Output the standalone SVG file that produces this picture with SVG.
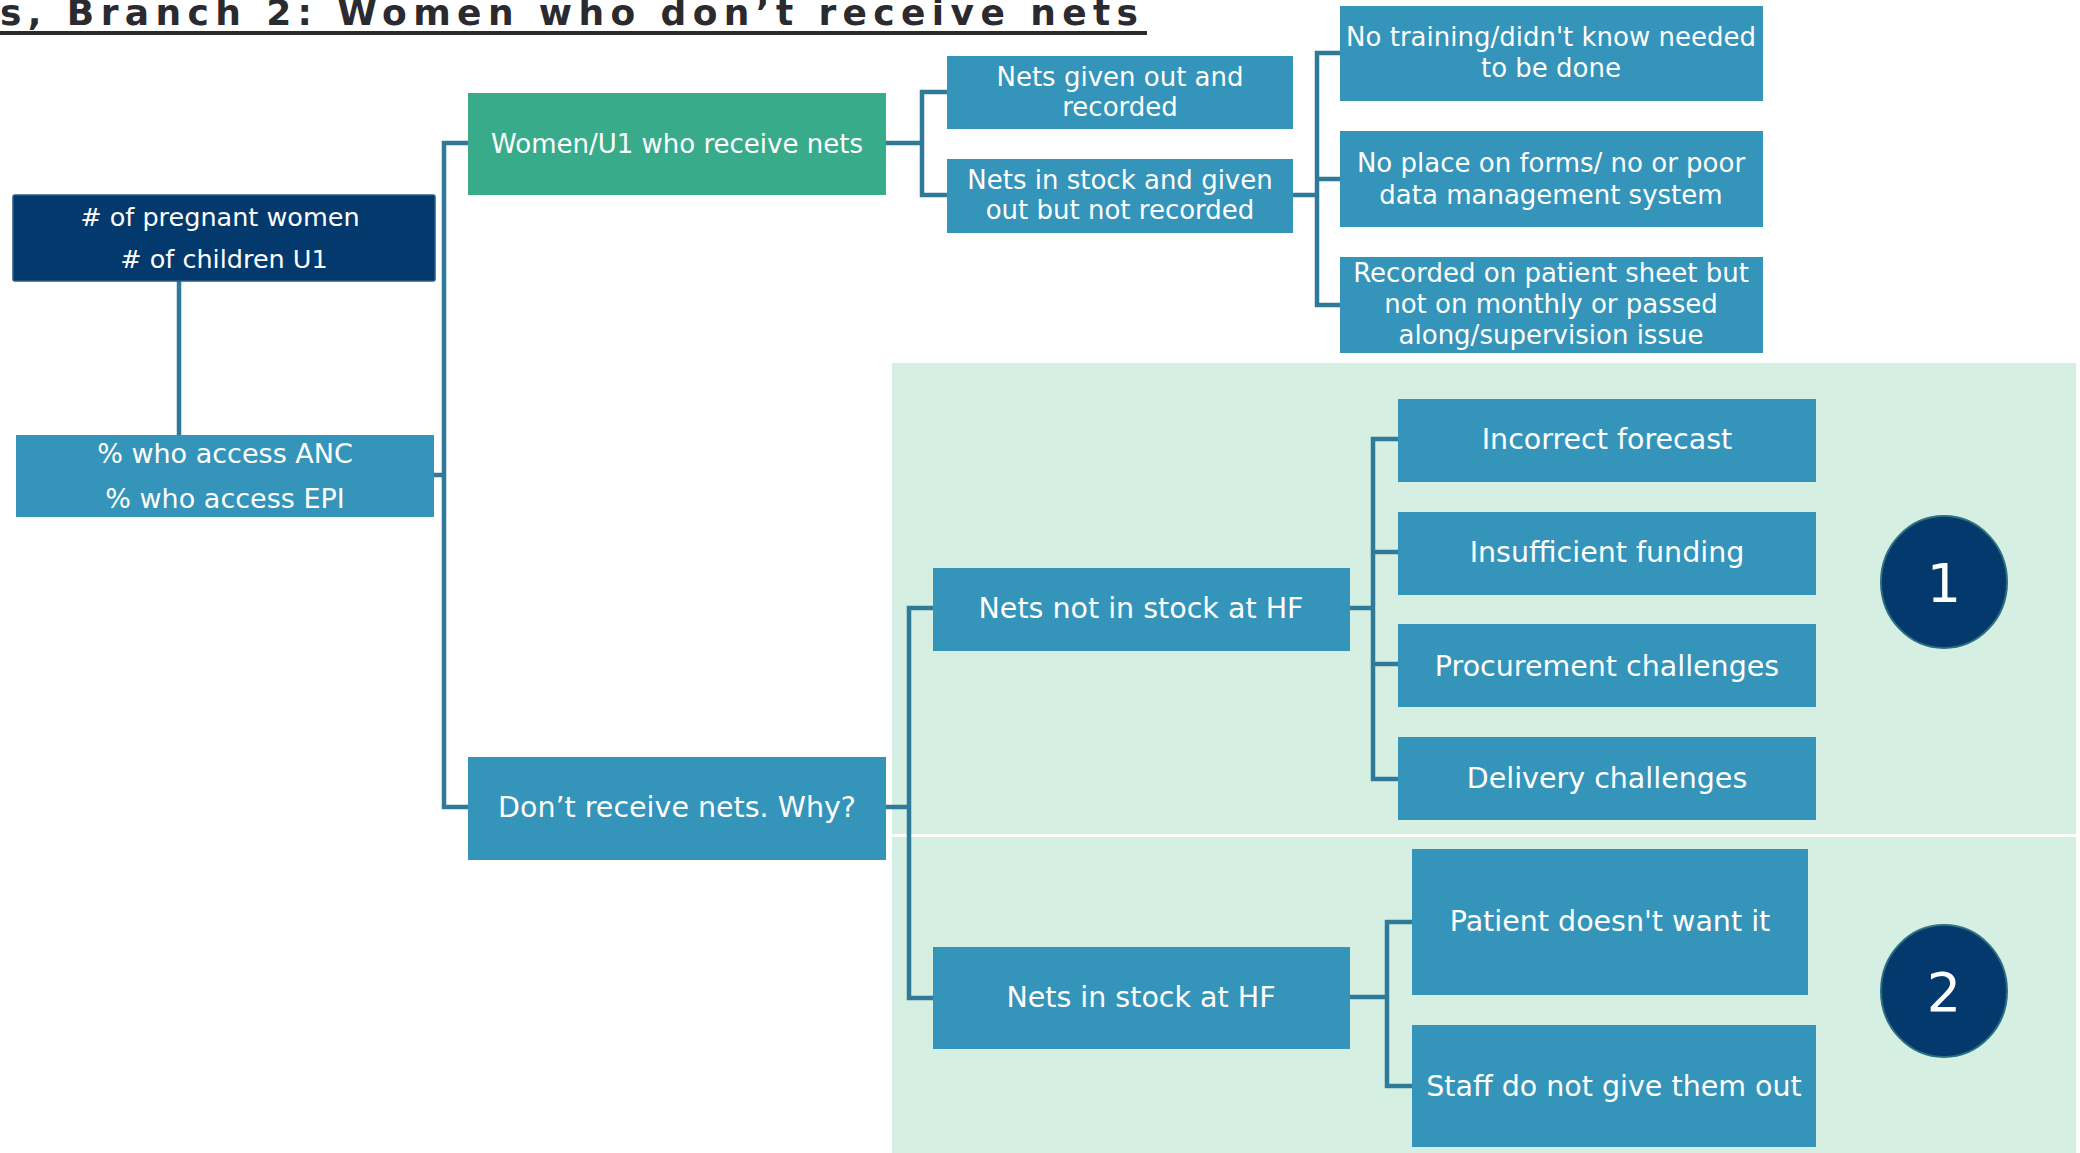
<svg xmlns="http://www.w3.org/2000/svg" width="2080" height="1153" viewBox="0 0 2080 1153">
<style>
.t{font-family:"DejaVu Sans","Liberation Sans",sans-serif;fill:#ffffff;text-anchor:middle}
.s26{font-size:26px}
.s27{font-size:27px}
.s28{font-size:28.5px}
.box{fill:#3594BA}
.conn{fill:none;stroke:#2E7A98;stroke-width:4.5;stroke-linejoin:miter}
.circ{fill:#03396C;stroke:#2D6E80;stroke-width:2}
</style>
<rect width="2080" height="1153" fill="#ffffff"/>
<g id="title">
<text x="0" y="25" font-family="DejaVu Sans, Liberation Sans, sans-serif" font-weight="bold" font-size="36" fill="#2A2A2F" textLength="1138" lengthAdjust="spacing">s, Branch 2: Women who don’t receive nets</text>
<rect x="0" y="31" width="1147" height="4" fill="#2A2A2F"/>
</g>
<g id="background">
<rect x="892" y="363" width="1184" height="471" fill="#D5F0E2"/>
<rect x="892" y="837" width="1184" height="316" fill="#D5F0E2"/>
</g>
<g id="connectors">
<path class="conn" d="M179 281 V435"/>
<path class="conn" d="M434 475 H444 M468 143 H444 V807 H468"/>
<path class="conn" d="M886 143 H922 M947 92 H922 V195 H947"/>
<path class="conn" d="M1293 195 H1317 M1340 53 H1317 V305 H1340 M1317 179 H1340"/>
<path class="conn" d="M886 807 H909 M933 608 H909 V998 H933"/>
<path class="conn" d="M1350 608 H1373 M1398 439 H1373 V779 H1398 M1373 552 H1398 M1373 664 H1398"/>
<path class="conn" d="M1350 997 H1387 M1412 922 H1387 V1086 H1412"/>
</g>
<g id="n-pregnant">
<rect x="13" y="195" width="422" height="86" rx="2" fill="#03396C" stroke="#2B5A85" stroke-width="1.5"/>
<text class="t" x="224" y="226" font-size="25.5">
<tspan x="224" y="226"># of pregnant women</tspan>
<tspan x="224" y="268"># of children U1</tspan>
</text>
</g>
<g id="n-access">
<rect class="box" x="16" y="435" width="418" height="82"/>
<text class="t s27"><tspan x="225" y="463">% who access ANC</tspan><tspan x="225" y="508">% who access EPI</tspan></text>
</g>
<g id="n-receive">
<rect x="468" y="93" width="418" height="102" fill="#38AB8A"/>
<text class="t s26" x="677" y="153">Women/U1 who receive nets</text>
</g>
<g id="n-dont">
<rect class="box" x="468" y="757" width="418" height="103"/>
<text class="t s28" x="677" y="817">Don’t receive nets. Why?</text>
</g>
<g id="n-given-recorded">
<rect class="box" x="947" y="56" width="346" height="73"/>
<text class="t s26"><tspan x="1120" y="86">Nets given out and</tspan><tspan x="1120" y="116">recorded</tspan></text>
</g>
<g id="n-given-not-recorded">
<rect class="box" x="947" y="159" width="346" height="74"/>
<text class="t s26"><tspan x="1120" y="189">Nets in stock and given</tspan><tspan x="1120" y="219">out but not recorded</tspan></text>
</g>
<g id="n-training">
<rect class="box" x="1340" y="6" width="423" height="95"/>
<text class="t s26"><tspan x="1551" y="46">No training/didn't know needed</tspan><tspan x="1551" y="77">to be done</tspan></text>
</g>
<g id="n-forms">
<rect class="box" x="1340" y="131" width="423" height="96"/>
<text class="t s26"><tspan x="1551" y="172">No place on forms/ no or poor</tspan><tspan x="1551" y="204">data management system</tspan></text>
</g>
<g id="n-patient-sheet">
<rect class="box" x="1340" y="257" width="423" height="96"/>
<text class="t s26"><tspan x="1551" y="282">Recorded on patient sheet but</tspan><tspan x="1551" y="313">not on monthly or passed</tspan><tspan x="1551" y="344">along/supervision issue</tspan></text>
</g>
<g id="n-not-in-stock">
<rect class="box" x="933" y="568" width="417" height="83"/>
<text class="t s28" x="1141" y="618">Nets not in stock at HF</text>
</g>
<g id="n-forecast">
<rect class="box" x="1398" y="399" width="418" height="83"/>
<text class="t s28" x="1607" y="449">Incorrect forecast</text>
</g>
<g id="n-funding">
<rect class="box" x="1398" y="512" width="418" height="83"/>
<text class="t s28" x="1607" y="562">Insufficient funding</text>
</g>
<g id="n-procurement">
<rect class="box" x="1398" y="624" width="418" height="83"/>
<text class="t s28" x="1607" y="676">Procurement challenges</text>
</g>
<g id="n-delivery">
<rect class="box" x="1398" y="737" width="418" height="83"/>
<text class="t s28" x="1607" y="788">Delivery challenges</text>
</g>
<g id="n-in-stock">
<rect class="box" x="933" y="947" width="417" height="102"/>
<text class="t s28" x="1141" y="1007">Nets in stock at HF</text>
</g>
<g id="n-patient">
<rect class="box" x="1412" y="849" width="396" height="146"/>
<text class="t s28" x="1610" y="931">Patient doesn't want it</text>
</g>
<g id="n-staff">
<rect class="box" x="1412" y="1025" width="404" height="122"/>
<text class="t s28" x="1614" y="1096">Staff do not give them out</text>
</g>
<g id="badge-1">
<ellipse class="circ" cx="1944" cy="582" rx="63" ry="66"/>
<text class="t" x="1944" y="602" font-size="54">1</text>
</g>
<g id="badge-2">
<ellipse class="circ" cx="1944" cy="991" rx="63" ry="66"/>
<text class="t" x="1944" y="1011" font-size="54">2</text>
</g>
</svg>
